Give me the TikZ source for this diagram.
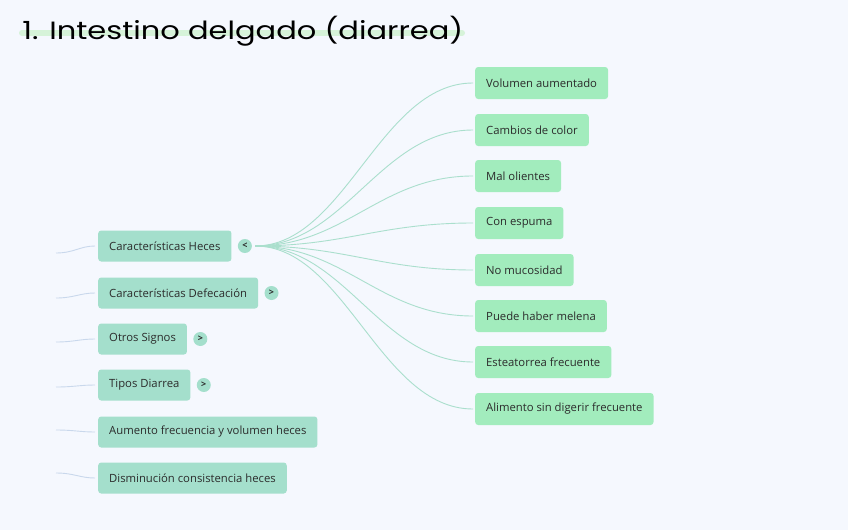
\documentclass[tikz,border=0pt]{standalone}
\usepackage{fontspec}
\setmainfont{Open Sans}
\newfontfamily\titlefont{Poppins}
\usepackage{tikz}
\usetikzlibrary{positioning,arrows.meta,calc}
\usepackage{xcolor}
\definecolor{PageBg}{HTML}{F5F8FE}
\definecolor{TealBox}{HTML}{A4DFCC}
\definecolor{GreenBox}{HTML}{A2ECBD}
\definecolor{TealLine}{HTML}{AADFCD}
\definecolor{BlueLine}{HTML}{C9D8EC}
\definecolor{MarkGreen}{HTML}{D6F3D9}
\definecolor{DarkText}{HTML}{2B2B2B}

\begin{document}
\begin{tikzpicture}[
    x=1pt, y=-1pt,
    box/.style={rectangle, rounded corners=3pt, draw=none, fill=TealBox,
        minimum height=31pt, inner xsep=11pt, anchor=west,
        font=\fontsize{11.3}{13}\selectfont, text=DarkText},
    leaf/.style={box, fill=GreenBox, minimum height=32pt},
    toggle/.style={circle, fill=TealBox, minimum size=14pt, inner sep=0pt,
        font=\fontsize{9}{9}\selectfont\bfseries, text=DarkText},
    branch/.style={TealLine, line width=0.9pt, shorten >=2pt},
    stub/.style={BlueLine, line width=0.9pt, shorten >=3pt},
]
\useasboundingbox[fill=PageBg] (0,0) rectangle (848,530);

% title
\draw[MarkGreen, line width=6pt, line cap=round] (22,33) -- (462,33);
\node[anchor=west, xscale=1.22, font=\titlefont\fontsize{25}{27}\selectfont, text=black] (title) at (18,31) {1. Intestino delgado (diarrea)};

% left column
\node[box] (heces) at (98,246) {Características Heces};
\node[box] (defec) at (98,293) {Características Defecación};
\node[box] (signos) at (98,339) {Otros Signos};
\node[box] (tipos) at (98,385) {Tipos Diarrea};
\node[box] (aumento) at (98,432) {Aumento frecuencia y volumen heces};
\node[box] (dismin) at (98,478) {Disminución consistencia heces};

\node[toggle, right=6pt of heces] (tHeces) {<};
\node[toggle, right=6pt of defec] (tDefec) {>};
\node[toggle, right=6pt of signos] (tSignos) {>};
\node[toggle, right=6pt of tipos] (tTipos) {>};

% stubs from the parent (off page)
\coordinate (s1) at (56,253);
\coordinate (s2) at (56,298);
\coordinate (s3) at (56,342);
\coordinate (s4) at (56,387);
\coordinate (s5) at (56,430);
\coordinate (s6) at (56,473);
\draw[stub] (s1) .. controls +(18,0) and +(-18,0) .. (heces.west);
\draw[stub] (s2) .. controls +(18,0) and +(-18,0) .. (defec.west);
\draw[stub] (s3) .. controls +(18,0) and +(-18,0) .. (signos.west);
\draw[stub] (s4) .. controls +(18,0) and +(-18,0) .. (tipos.west);
\draw[stub] (s5) .. controls +(18,0) and +(-18,0) .. (aumento.west);
\draw[stub] (s6) .. controls +(18,0) and +(-18,0) .. (dismin.west);

% right column
\node[leaf] (vol) at (475,83) {Volumen aumentado};
\node[leaf] (color) at (475,130) {Cambios de color};
\node[leaf] (olor) at (475,176) {Mal olientes};
\node[leaf] (espuma) at (475,223) {Con espuma};
\node[leaf] (muco) at (475,270) {No mucosidad};
\node[leaf] (melena) at (475,316) {Puede haber melena};
\node[leaf] (estea) at (475,362) {Esteatorrea frecuente};
\node[leaf] (alim) at (475,409) {Alimento sin digerir frecuente};

\foreach \leafname in {vol,color,olor,espuma,muco,melena,estea,alim}
    \draw[branch] ([xshift=3pt]tHeces.east) .. controls +(90,0) and +(-95,0) .. (\leafname.west);
\end{tikzpicture}
\end{document}
